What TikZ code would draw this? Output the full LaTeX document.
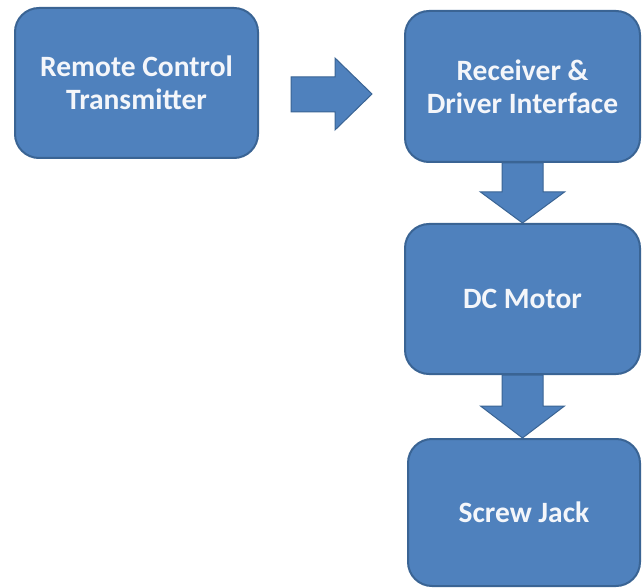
\documentclass[tikz,border=0pt]{standalone}
\usepackage{fontspec}
\setmainfont{Carlito}
\usetikzlibrary{calc}
\definecolor{blockfill}{HTML}{4F81BD}
\definecolor{blockline}{HTML}{3A6494}
\definecolor{blocktext}{HTML}{F4F6FA}
\tikzset{
  block/.style={draw=blockline, line width=2pt, fill=blockfill, rounded corners=24pt,
    inner sep=0pt, align=center, text=blocktext,
    font=\fontsize{29.5}{33}\selectfont\bfseries},
  blockarrow/.style={draw=blockline, line width=1pt, fill=blockfill, line join=miter}
}
\begin{document}
\begin{tikzpicture}[x=1pt, y=-1pt]
  \useasboundingbox[fill=white] (0,0) rectangle (643,588);

  % process blocks
  \node[block, minimum width=243pt, minimum height=150pt] (tx) at (136.5,83) {Remote Control\\Transmitter};
  \node[block, minimum width=235pt, minimum height=151pt] (rx) at (522.5,86.5) {Receiver \&\\Driver Interface};
  \node[block, minimum width=235pt, minimum height=150pt] (dc) at (522.5,299) {DC Motor};
  \node[block, minimum width=232pt, minimum height=147pt] (sj) at (524,512.5) {Screw Jack};

  % block arrow from transmitter to receiver
  \draw[blockarrow] let \p1=(tx.east), \p2=(rx.west) in
    (\x1+32pt,\y1+6pt) -- (\x1+76pt,\y1+6pt) -- (\x1+76pt,\y1+25pt)
    -- (\x2-32pt,\y1-11pt)
    -- (\x1+76pt,\y1-47pt) -- (\x1+76pt,\y1-29pt) -- (\x1+32pt,\y1-29pt) -- cycle;

  % downward block arrows between stacked blocks
  \draw[blockarrow] let \p1=(rx.south), \p2=(dc.north) in
    (\x1-20.5pt,\y1) -- (\x1-20.5pt,\y2+31pt) -- (\x1-42pt,\y2+31pt) -- (\x1,\y2)
    -- (\x1+42pt,\y2+31pt) -- (\x1+20.5pt,\y2+31pt) -- (\x1+20.5pt,\y1) -- cycle;
  \draw[blockarrow] let \p1=(dc.south), \p2=(sj.north) in
    (\x1-20.5pt,\y1) -- (\x1-20.5pt,\y2+32pt) -- (\x1-42pt,\y2+32pt) -- (\x1,\y2)
    -- (\x1+42pt,\y2+32pt) -- (\x1+20.5pt,\y2+32pt) -- (\x1+20.5pt,\y1) -- cycle;
\end{tikzpicture}
\end{document}
